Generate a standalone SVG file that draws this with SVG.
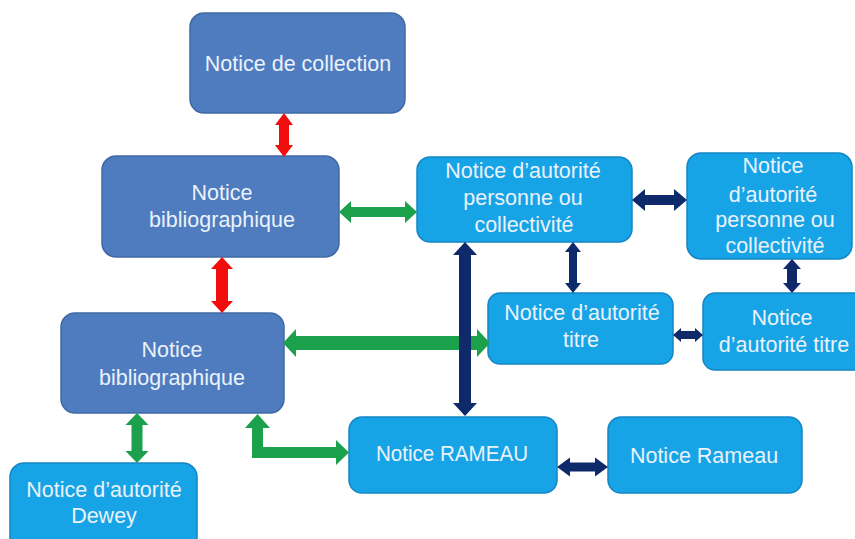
<svg xmlns="http://www.w3.org/2000/svg" width="855" height="539" viewBox="0 0 855 539">
<style>
.dk{fill:#4F7CBE;stroke:#3F69A6;stroke-width:1.5}
.lt{fill:#16A4E6;stroke:#1585C4;stroke-width:1.5}
text{font-family:"Liberation Sans",Arial,sans-serif;font-size:21.5px;fill:#EAF2FB;text-anchor:middle}
.red{fill:#F20D0D}
.grn{fill:#1BA04C}
.nav{fill:#0E2A6A}
</style>
<rect width="855" height="539" fill="#FFFFFF"/>
<g id="nodes">
<g id="n-collection"><rect class="dk" x="190" y="13" width="215" height="100" rx="14"/><text x="298" y="71">Notice de collection</text></g>
<g id="n-biblio1"><rect class="dk" x="102" y="156" width="237" height="101" rx="14"/><text x="222" y="200">Notice</text><text x="222" y="227">bibliographique</text></g>
<g id="n-biblio2"><rect class="dk" x="61" y="313" width="223" height="100" rx="14"/><text x="172" y="357">Notice</text><text x="172" y="385">bibliographique</text></g>
<g id="n-dewey"><rect class="lt" x="10" y="463" width="187" height="90" rx="14"/><text x="104" y="497">Notice d’autorité</text><text x="104" y="523">Dewey</text></g>
<g id="n-rameau1"><rect class="lt" x="349" y="417" width="208" height="76" rx="13"/><text x="452" y="461" textLength="152" lengthAdjust="spacingAndGlyphs">Notice RAMEAU</text></g>
<g id="n-rameau2"><rect class="lt" x="608" y="417" width="194" height="76" rx="13"/><text x="704" y="463">Notice Rameau</text></g>
<g id="n-personne1"><rect class="lt" x="417" y="157" width="215" height="85" rx="13"/><text x="523" y="178">Notice d’autorité</text><text x="523" y="205">personne ou</text><text x="524" y="232">collectivité</text></g>
<g id="n-personne2"><rect class="lt" x="687" y="153" width="165" height="106" rx="14"/><text x="773" y="173">Notice</text><text x="773" y="202">d’autorité</text><text x="775" y="227">personne ou</text><text x="775" y="253">collectivité</text></g>
<g id="n-titre1"><rect class="lt" x="488" y="293" width="185" height="71" rx="12"/><text x="582" y="320">Notice d’autorité</text><text x="581" y="347">titre</text></g>
<g id="n-titre2"><rect class="lt" x="703" y="293" width="170" height="77" rx="12"/><text x="782" y="325">Notice</text><text x="784" y="352">d’autorité titre</text></g>
</g>
<g id="connectors">
<polygon class="red" points="284,113 293,125 289,125 289,145 293,145 284,157 275,145 279,145 279,125 275,125"/>
<polygon class="red" points="222,257 233,269 228,269 228,301 233,301 222,313 211,301 216,301 216,269 211,269"/>
<polygon class="grn" points="339,212 351,201 351,207 405,207 405,201 417,212 405,223 405,217 351,217 351,223"/>
<polygon class="grn" points="283,343 296,329 296,336 477,336 477,329 490,343 477,357 477,350 296,350 296,357"/>
<polygon class="grn" points="137,413 148.5,425 142.5,425 142.5,451 148.5,451 137,463 125.5,451 131.5,451 131.5,425 125.5,425"/>
<polygon class="grn" points="257.5,414 270,428 263,428 263,447 336,447 336,440 349,452.5 336,465 336,458 252,458 252,428 245,428"/>
<polygon class="nav" points="465,242 477,255 471,255 471,403 477,403 465,416 453,403 459,403 459,255 453,255"/>
<polygon class="nav" points="632,200 645,189 645,195 674,195 674,189 687,200 674,211 674,205 645,205 645,211"/>
<polygon class="nav" points="573,242 581,252 577,252 577,283 581,283 573,293 565,283 569,283 569,252 565,252"/>
<polygon class="nav" points="792,259 801,269 797,269 797,283 801,283 792,293 783,283 787,283 787,269 783,269"/>
<polygon class="nav" points="673,335 681,328 681,331 695,331 695,328 703,335 695,342 695,339 681,339 681,342"/>
<polygon class="nav" points="557,467 570,457.5 570,462.5 595,462.5 595,457.5 608,467 595,476.5 595,471.5 570,471.5 570,476.5"/>
</g>
</svg>
